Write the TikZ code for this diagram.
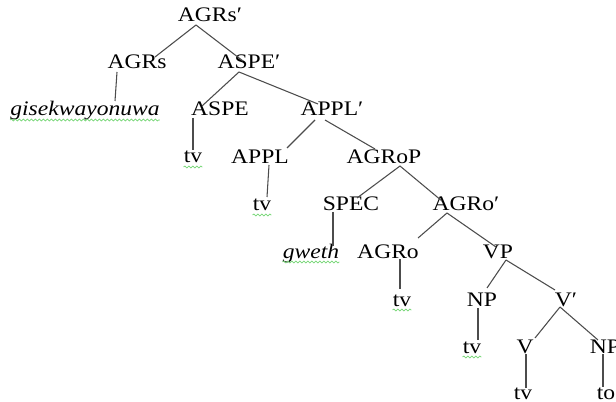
\documentclass[tikz,border=0pt]{standalone}
\usepackage{fontspec}
\setmainfont{Liberation Serif}[FakeStretch=1.14]
\usetikzlibrary{decorations.pathmorphing}
\begin{document}
\begin{tikzpicture}[x=0.75pt,y=-0.75pt,
  lbl/.style={inner sep=0pt,anchor=base,font=\fontsize{15.5}{18}\selectfont},
  edge/.style={draw=black!70,line width=0.8pt},
  spell/.style={draw=green!70!black!55,line width=0.55pt,decorate,decoration={snake,amplitude=0.7pt,segment length=3pt}}]
\useasboundingbox (0,0) rectangle (616,402);
% nodes
\node[lbl] (agrsp) at (210,22) {AGRs′};
\node[lbl] (agrs) at (137,69) {AGRs};
\node[lbl] (aspep) at (249,69) {ASPE′};
\node[lbl] (gise) at (85,116) {\itshape gisekwayonuwa};
\node[lbl] (aspe) at (220,116) {ASPE};
\node[lbl] (applp) at (332,116) {APPL′};
\node[lbl] (tva) at (193,163) {tv};
\node[lbl] (appl) at (260,164) {APPL};
\node[lbl] (agrop) at (384,164) {AGRoP};
\node[lbl] (tvb) at (262,211) {tv};
\node[lbl] (spec) at (351,211) {SPEC};
\node[lbl] (agrobar) at (466,211) {AGRo′};
\node[lbl] (gweth) at (311,258) {\itshape gweth};
\node[lbl] (agro) at (388,258) {AGRo};
\node[lbl] (vp) at (498,258) {VP};
\node[lbl] (tvc) at (402,306) {tv};
\node[lbl] (np) at (482,306) {NP};
\node[lbl] (vbar) at (566,306) {V′};
\node[lbl] (tvd) at (472,353) {tv};
\node[lbl] (v) at (525,353) {V};
\node[lbl] (npb) at (605,353) {NP};
\node[lbl] (tve) at (523,399) {tv};
\node[lbl] (to) at (606,399) {to};
% connectors
\draw[edge] ([shift={(-14,3)}]agrsp.base) -- ([shift={(18,-12)}]agrs.base);
\draw[edge] ([shift={(-14,3)}]agrsp.base) -- ([shift={(-6,-8)}]aspep.base);
\draw[edge] ([shift={(-20,3)}]agrs.base) -- ([shift={(30,-15)}]gise.base);
\draw[edge] ([shift={(-10,3)}]aspep.base) -- ([shift={(-18,-10)}]aspe.base);
\draw[edge] ([shift={(-10,3)}]aspep.base) -- ([shift={(-14,-12)}]applp.base);
\draw[edge] ([shift={(-27,2)}]aspe.base) -- ([shift={(0,-13)}]tva.base);
\draw[edge] ([shift={(-17,4)}]applp.base) -- ([shift={(27,-16)}]appl.base);
\draw[edge] ([shift={(-7,4)}]applp.base) -- ([shift={(-9,-15)}]agrop.base);
\draw[edge] ([shift={(9,1)}]appl.base) -- ([shift={(5,-14)}]tvb.base);
\draw[edge] ([shift={(16,2)}]agrop.base) -- ([shift={(6,-13)}]spec.base);
\draw[edge] ([shift={(16,2)}]agrop.base) -- ([shift={(-24,-10)}]agrobar.base);
\draw[edge] ([shift={(-18,1)}]spec.base) -- ([shift={(22,-12)}]gweth.base);
\draw[edge] ([shift={(-19,2)}]agrobar.base) -- ([shift={(30,-20)}]agro.base);
\draw[edge] ([shift={(-19,2)}]agrobar.base) -- ([shift={(-2,-11)}]vp.base);
\draw[edge] ([shift={(12,1)}]agro.base) -- ([shift={(-2,-17)}]tvc.base);
\draw[edge] ([shift={(8,2)}]vp.base) -- ([shift={(5,-18)}]np.base);
\draw[edge] ([shift={(8,2)}]vp.base) -- ([shift={(-11,-16)}]vbar.base);
\draw[edge] ([shift={(-4,2)}]np.base) -- ([shift={(6,-13)}]tvd.base);
\draw[edge] ([shift={(-6,1)}]vbar.base) -- ([shift={(10,-15)}]v.base);
\draw[edge] ([shift={(-6,1)}]vbar.base) -- ([shift={(-7,-13)}]npb.base);
\draw[edge] ([shift={(1,1)}]v.base) -- ([shift={(3,-11)}]tve.base);
\draw[edge] ([shift={(-2,1)}]npb.base) -- ([shift={(-3,-12)}]to.base);
% spell-check underlines
\draw[spell] ([shift={(0,4)}]gise.base west) -- ([shift={(0,4)}]gise.base east);
\draw[spell] ([shift={(0,4)}]tva.base west) -- ([shift={(0,4)}]tva.base east);
\draw[spell] ([shift={(0,4)}]tvb.base west) -- ([shift={(0,4)}]tvb.base east);
\draw[spell] ([shift={(0,4)}]gweth.base west) -- ([shift={(0,4)}]gweth.base east);
\draw[spell] ([shift={(0,4)}]tvc.base west) -- ([shift={(0,4)}]tvc.base east);
\draw[spell] ([shift={(0,4)}]tvd.base west) -- ([shift={(0,4)}]tvd.base east);
\end{tikzpicture}
\end{document}
